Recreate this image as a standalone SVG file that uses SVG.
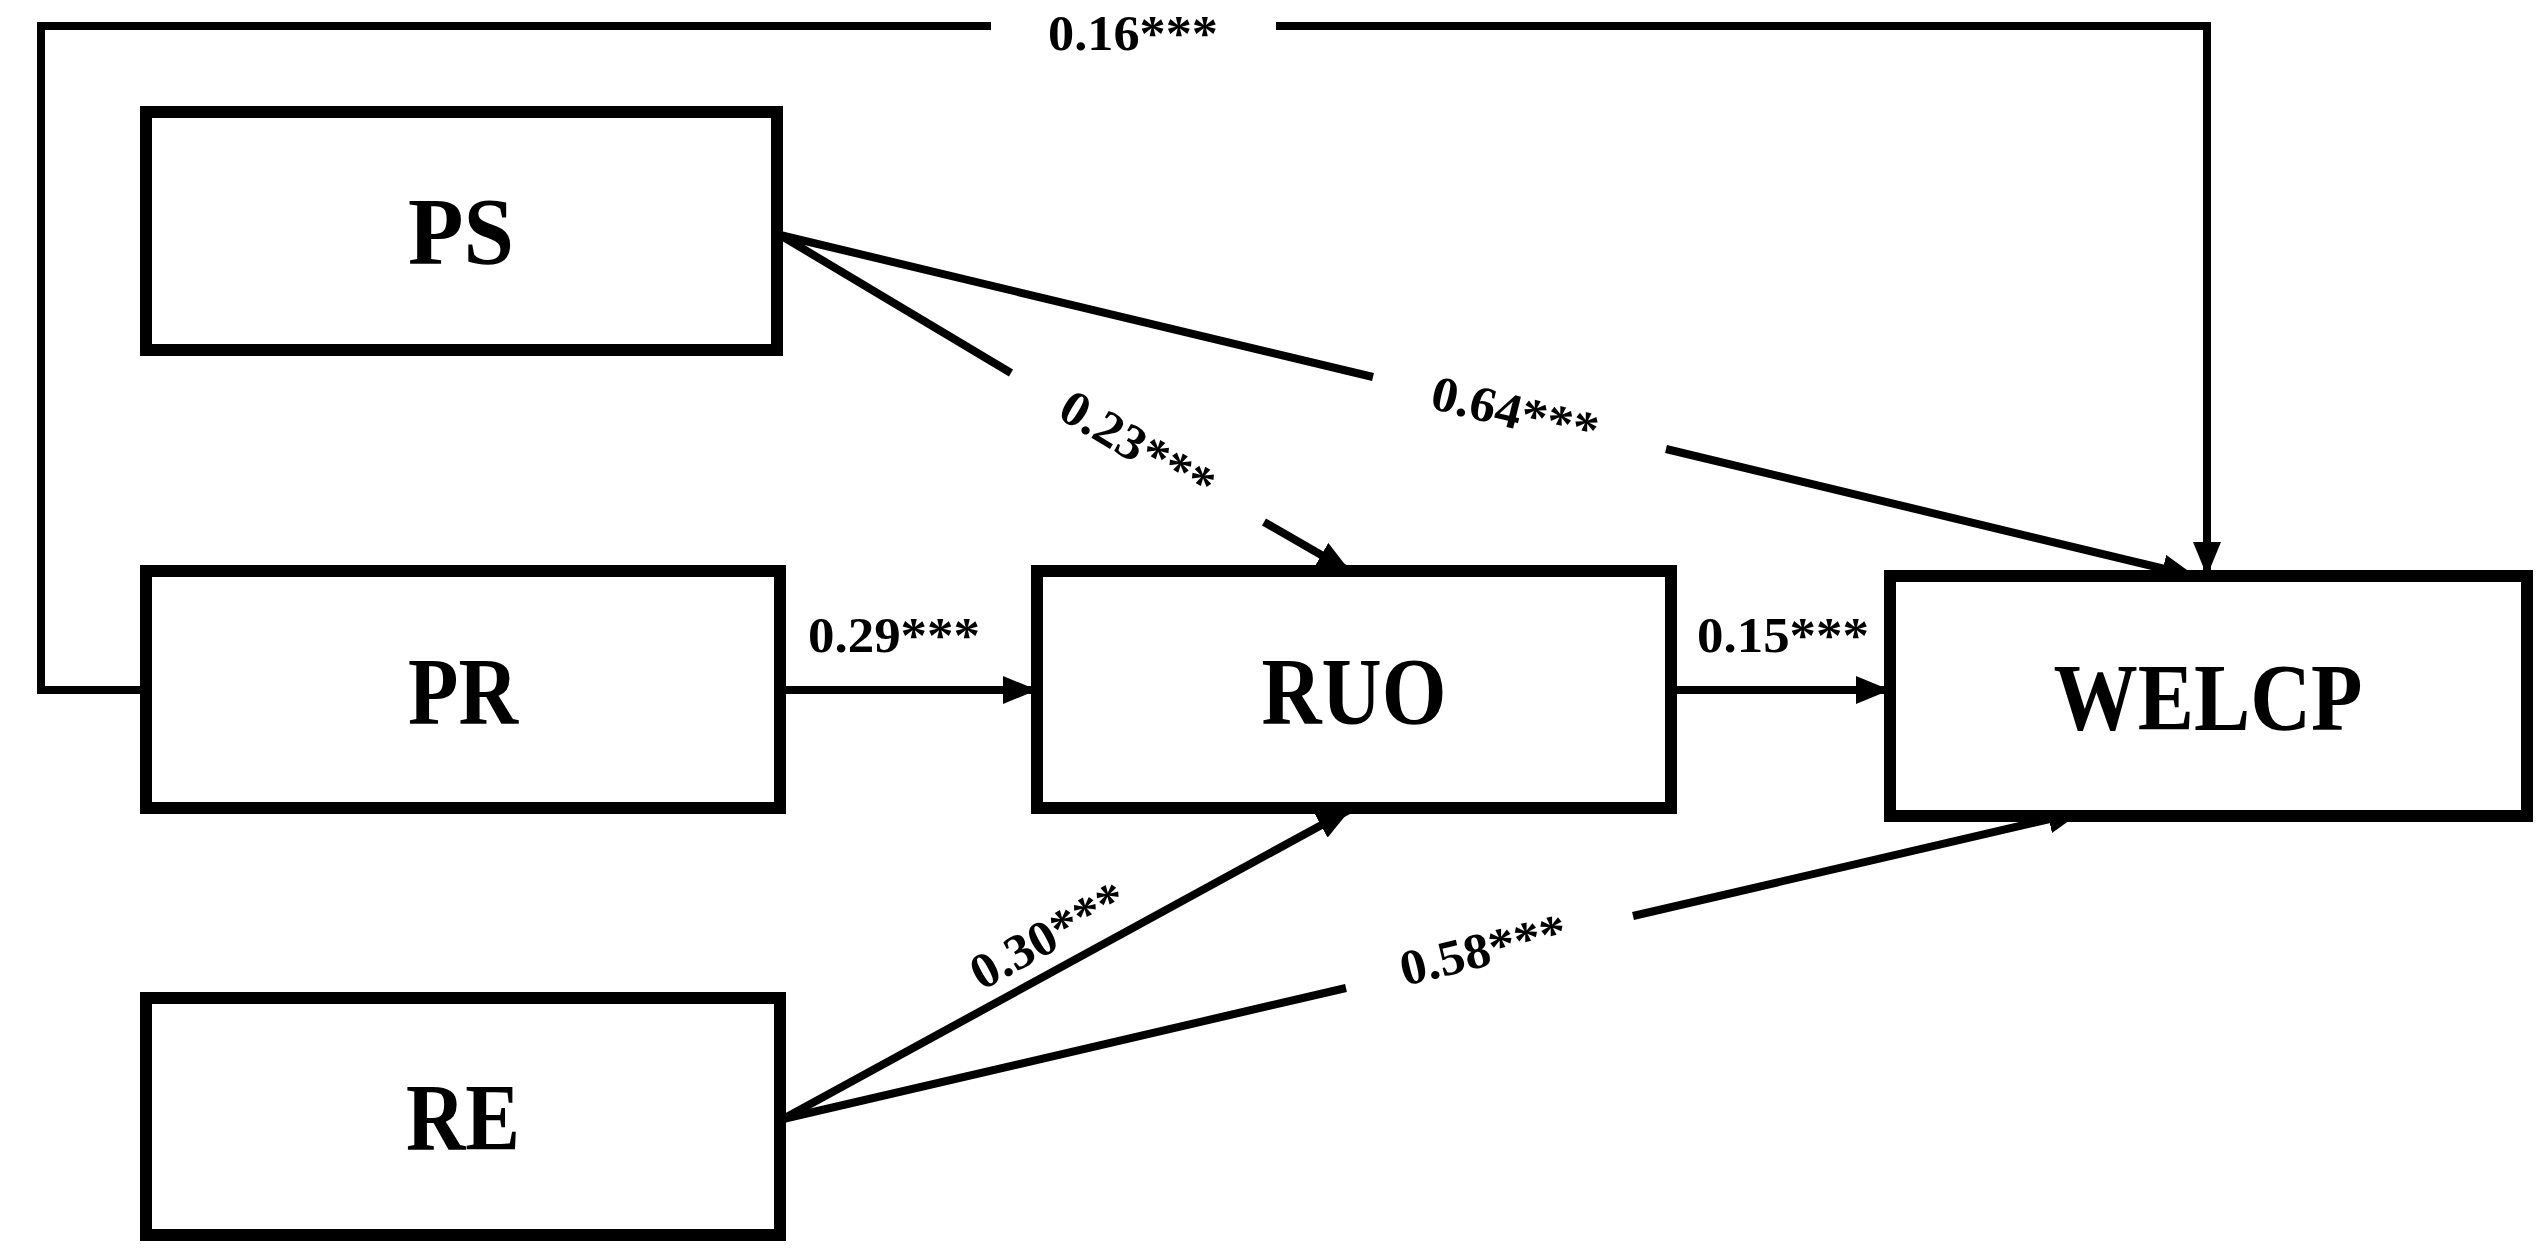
<svg xmlns="http://www.w3.org/2000/svg" width="2548" height="1258" viewBox="0 0 2548 1258">
<style>
.box{fill:#fff;stroke:#000;stroke-width:12}
.nt{font-family:"Liberation Serif",serif;font-weight:bold;font-size:96px;text-anchor:middle;fill:#000}
.el{font-family:"Liberation Serif",serif;font-weight:bold;font-size:50px;text-anchor:middle;fill:#000}
.ln{fill:none;stroke:#000;stroke-width:8}
</style>
<defs>
<marker id="ah" markerUnits="userSpaceOnUse" markerWidth="34" markerHeight="28" refX="32" refY="14" orient="auto">
<path d="M0,0 L34,14 L0,28 Z" fill="#000"/>
</marker>
</defs>
<rect width="2548" height="1258" fill="#fff"/>
<g id="connectors">
<polyline class="ln" points="146,690 41,690 41,26 991,26"/>
<polyline class="ln" points="1276,26 2207,26 2207,574" marker-end="url(#ah)"/>
<line class="ln" x1="780" y1="235" x2="1011" y2="373"/>
<line class="ln" x1="1264" y1="522" x2="1349" y2="571" marker-end="url(#ah)"/>
<line class="ln" x1="780" y1="235" x2="1373" y2="377"/>
<line class="ln" x1="1666" y1="449" x2="2194" y2="576" marker-end="url(#ah)"/>
<line class="ln" x1="780" y1="690" x2="1035" y2="690" marker-end="url(#ah)"/>
<line class="ln" x1="1671" y1="690" x2="1888" y2="690" marker-end="url(#ah)"/>
<line class="ln" x1="783" y1="1119" x2="1349" y2="810" marker-end="url(#ah)"/>
<line class="ln" x1="783" y1="1119" x2="1346" y2="988"/>
<line class="ln" x1="1633" y1="916" x2="2080" y2="812" marker-end="url(#ah)"/>
<text class="el" x="1133" y="50" textLength="170" lengthAdjust="spacingAndGlyphs">0.16***</text>
<text class="el" transform="translate(1129,460) rotate(30.6)" textLength="170" lengthAdjust="spacingAndGlyphs">0.23***</text>
<text class="el" transform="translate(1511,428) rotate(13.6)" textLength="170" lengthAdjust="spacingAndGlyphs">0.64***</text>
<text class="el" x="894" y="652" textLength="172" lengthAdjust="spacingAndGlyphs">0.29***</text>
<text class="el" x="1783" y="652" textLength="172" lengthAdjust="spacingAndGlyphs">0.15***</text>
<text class="el" transform="translate(1056,950) rotate(-28.8)" textLength="170" lengthAdjust="spacingAndGlyphs">0.30***</text>
<text class="el" transform="translate(1487,966) rotate(-13.6)" textLength="170" lengthAdjust="spacingAndGlyphs">0.58***</text>
</g>
<g id="PS"><rect class="box" x="146" y="112" width="631" height="238"/><text class="nt" x="461" y="264" textLength="106" lengthAdjust="spacingAndGlyphs">PS</text></g>
<g id="PR"><rect class="box" x="146" y="571" width="634" height="237"/><text class="nt" x="463" y="724" textLength="110" lengthAdjust="spacingAndGlyphs">PR</text></g>
<g id="RE"><rect class="box" x="146" y="998" width="634" height="237"/><text class="nt" x="463" y="1150" textLength="114" lengthAdjust="spacingAndGlyphs">RE</text></g>
<g id="RUO"><rect class="box" x="1037" y="571" width="634" height="237"/><text class="nt" x="1354" y="724" textLength="185" lengthAdjust="spacingAndGlyphs">RUO</text></g>
<g id="WELCP"><rect class="box" x="1890" y="576" width="637" height="240"/><text class="nt" x="2208" y="730" textLength="309" lengthAdjust="spacingAndGlyphs">WELCP</text></g>
</svg>
